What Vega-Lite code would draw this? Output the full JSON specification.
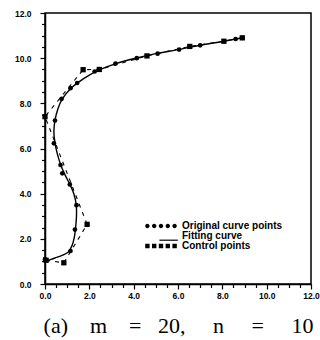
{
  "$schema": "https://vega.github.io/schema/vega-lite/v6.json",
  "autosize": {"type": "none"},
  "padding": {"left": 45, "top": 13, "right": 9, "bottom": 56},
  "width": 266,
  "height": 271,
  "background": "white",
  "config": {
    "view": {"stroke": "black", "strokeWidth": 1.5},
    "axis": {
      "domainColor": "black", "domainWidth": 1.5, "tickColor": "black", "tickWidth": 1.2,
      "labelFont": "Liberation Sans", "labelFontWeight": "bold", "labelFontSize": 8.5, "labelColor": "black",
      "grid": false
    }
  },
  "datasets": {
    "fit": [
      {"i": 1, "x": 0.0, "y": 1.0}, {"i": 2, "x": 0.15, "y": 1.05}, {"i": 3, "x": 0.45, "y": 1.15},
      {"i": 4, "x": 0.8, "y": 1.28}, {"i": 5, "x": 1.05, "y": 1.42}, {"i": 6, "x": 1.22, "y": 1.7},
      {"i": 7, "x": 1.32, "y": 2.05}, {"i": 8, "x": 1.38, "y": 2.5}, {"i": 9, "x": 1.42, "y": 3.0},
      {"i": 10, "x": 1.41, "y": 3.5}, {"i": 11, "x": 1.3, "y": 4.0}, {"i": 12, "x": 1.12, "y": 4.41},
      {"i": 13, "x": 0.92, "y": 4.8}, {"i": 14, "x": 0.72, "y": 5.25}, {"i": 15, "x": 0.56, "y": 5.75},
      {"i": 16, "x": 0.45, "y": 6.25}, {"i": 17, "x": 0.4, "y": 6.75}, {"i": 18, "x": 0.45, "y": 7.25},
      {"i": 19, "x": 0.58, "y": 7.75}, {"i": 20, "x": 0.78, "y": 8.2}, {"i": 21, "x": 1.15, "y": 8.65},
      {"i": 22, "x": 1.5, "y": 8.93}, {"i": 23, "x": 2.0, "y": 9.25}, {"i": 24, "x": 2.5, "y": 9.5},
      {"i": 25, "x": 3.2, "y": 9.76}, {"i": 26, "x": 4.1, "y": 10.0}, {"i": 27, "x": 5.0, "y": 10.2},
      {"i": 28, "x": 6.0, "y": 10.38}, {"i": 29, "x": 7.0, "y": 10.57}, {"i": 30, "x": 8.0, "y": 10.74},
      {"i": 31, "x": 8.9, "y": 10.9}
    ],
    "orig": [
      {"x": 0.0, "y": 1.1}, {"x": 1.15, "y": 1.46}, {"x": 1.35, "y": 2.41}, {"x": 1.42, "y": 3.49},
      {"x": 1.12, "y": 4.41}, {"x": 0.78, "y": 4.9}, {"x": 0.7, "y": 5.27}, {"x": 0.4, "y": 6.23},
      {"x": 0.45, "y": 7.24}, {"x": 0.75, "y": 8.2}, {"x": 1.15, "y": 8.67}, {"x": 1.45, "y": 8.9},
      {"x": 2.24, "y": 9.41}, {"x": 3.18, "y": 9.76}, {"x": 4.14, "y": 10.0}, {"x": 5.08, "y": 10.2},
      {"x": 6.05, "y": 10.38}, {"x": 7.0, "y": 10.57}, {"x": 8.6, "y": 10.85}, {"x": 8.9, "y": 10.9}
    ],
    "ctrl": [
      {"i": 1, "x": 0.05, "y": 1.05}, {"i": 2, "x": 0.85, "y": 0.94}, {"i": 3, "x": 1.9, "y": 2.64},
      {"i": 4, "x": 0.0, "y": 7.41}, {"i": 5, "x": 1.72, "y": 9.49}, {"i": 6, "x": 2.45, "y": 9.5},
      {"i": 7, "x": 4.6, "y": 10.1}, {"i": 8, "x": 6.53, "y": 10.52}, {"i": 9, "x": 8.07, "y": 10.75},
      {"i": 10, "x": 8.9, "y": 10.9}
    ],
    "legend": [
      {"series": "Original curve points"}, {"series": "Fitting curve"}, {"series": "Control points"}
    ]
  },
  "encoding": {
    "x": {
      "type": "quantitative",
      "scale": {"domain": [0, 12], "nice": false, "zero": false},
      "axis": {
        "values": [0, 0.5, 1, 1.5, 2, 2.5, 3, 3.5, 4, 4.5, 5, 5.5, 6, 6.5, 7, 7.5, 8, 8.5, 9, 9.5, 10, 10.5, 11, 11.5, 12],
        "labelExpr": "datum.value % 2 === 0 ? format(datum.value, '.1f') : ''",
        "tickSize": {"condition": {"test": "datum.value % 2 === 0", "value": 5}, "value": 3.5},
        "labelPadding": 2, "labelOverlap": false, "labelBound": false, "labelFlush": false,
        "title": "(a)\u00a0\u00a0\u00a0\u00a0m\u00a0\u00a0\u00a0\u00a0=\u00a0\u00a0\u00a020,\u00a0\u00a0\u00a0\u00a0\u00a0n\u00a0\u00a0\u00a0\u00a0\u00a0=\u00a0\u00a0\u00a0\u00a0\u00a010",
        "titleFont": "Liberation Serif", "titleFontSize": 22, "titleFontWeight": "normal", "titleColor": "black",
        "titlePadding": 16
      }
    },
    "y": {
      "type": "quantitative",
      "scale": {"domain": [0, 12], "nice": false, "zero": false},
      "axis": {
        "values": [0, 0.5, 1, 1.5, 2, 2.5, 3, 3.5, 4, 4.5, 5, 5.5, 6, 6.5, 7, 7.5, 8, 8.5, 9, 9.5, 10, 10.5, 11, 11.5, 12],
        "labelExpr": "datum.value % 2 === 0 ? format(datum.value, '.1f') : ''",
        "tickSize": {"condition": {"test": "datum.value % 2 === 0", "value": 5}, "value": 3.5},
        "labelPadding": 9, "labelOverlap": false, "labelBound": false, "labelFlush": false,
        "title": null
      }
    }
  },
  "layer": [
    {
      "data": {"name": "fit"},
      "mark": {"type": "line", "color": "black", "strokeWidth": 1.4, "interpolate": "catmull-rom"},
      "encoding": {"x": {"field": "x"}, "y": {"field": "y"}, "order": {"field": "i"}}
    },
    {
      "data": {"name": "ctrl"},
      "mark": {"type": "line", "color": "black", "strokeWidth": 1.1, "strokeDash": [4, 5]},
      "encoding": {"x": {"field": "x"}, "y": {"field": "y"}, "order": {"field": "i"}}
    },
    {
      "data": {"name": "ctrl"},
      "mark": {"type": "square", "color": "black", "filled": true, "size": 28, "opacity": 1},
      "encoding": {"x": {"field": "x"}, "y": {"field": "y"}}
    },
    {
      "data": {"name": "orig"},
      "mark": {"type": "circle", "color": "black", "size": 22, "opacity": 1},
      "encoding": {"x": {"field": "x"}, "y": {"field": "y"}}
    },
    {
      "data": {"name": "legend"},
      "mark": {"type": "point", "filled": true, "color": "black", "opacity": 0, "size": 0},
      "encoding": {
        "x": {"datum": 0},
        "y": {"datum": 0},
        "shape": {
          "field": "series", "type": "nominal",
          "scale": {
            "domain": ["Original curve points", "Fitting curve", "Control points"],
            "range": [
              "M-3.95,0a0.55,0.55 0 1,0 1.1,0a0.55,0.55 0 1,0 -1.1,0M-2.25,0a0.55,0.55 0 1,0 1.1,0a0.55,0.55 0 1,0 -1.1,0M-0.55,0a0.55,0.55 0 1,0 1.1,0a0.55,0.55 0 1,0 -1.1,0M1.15,0a0.55,0.55 0 1,0 1.1,0a0.55,0.55 0 1,0 -1.1,0M2.85,0a0.55,0.55 0 1,0 1.1,0a0.55,0.55 0 1,0 -1.1,0",
              "M-0.4,0.9h4.6v0.3h-4.6z",
              "M-3.95,-0.55h1.1v1.1h-1.1zM-2.25,-0.55h1.1v1.1h-1.1zM-0.55,-0.55h1.1v1.1h-1.1zM1.15,-0.55h1.1v1.1h-1.1zM2.85,-0.55h1.1v1.1h-1.1z"
            ]
          },
          "legend": {
            "orient": "none", "legendX": 111, "legendY": 208, "title": null, "padding": 0,
            "symbolSize": 64, "symbolFillColor": "black", "symbolStrokeColor": "black",
            "symbolStrokeWidth": 0, "symbolOpacity": 1,
            "labelFont": "Liberation Sans", "labelFontWeight": "bold", "labelFontSize": 10,
            "labelColor": "black", "labelOffset": 16, "rowPadding": -1.5
          }
        }
      }
    }
  ]
}
